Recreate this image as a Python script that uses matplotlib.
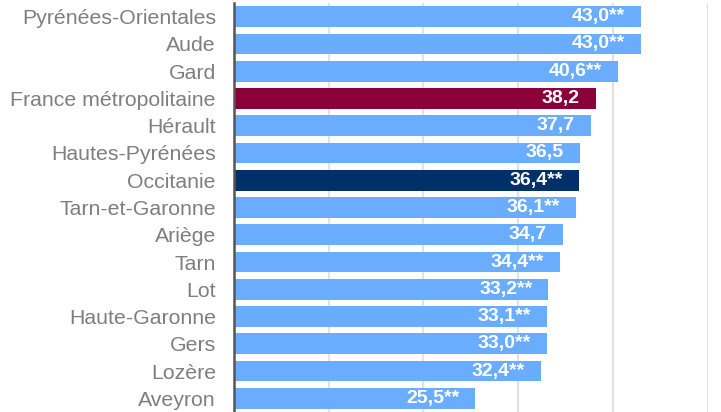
import matplotlib
matplotlib.use('Agg')
import matplotlib.pyplot as plt

# données
departements = ['Pyrénées-Orientales', 'Aude', 'Gard', 'France métropolitaine', 'Hérault',
                'Hautes-Pyrénées', 'Occitanie', 'Tarn-et-Garonne', 'Ariège', 'Tarn', 'Lot',
                'Haute-Garonne', 'Gers', 'Lozère', 'Aveyron']
valeurs = [43.0, 43.0, 40.6, 38.2, 37.7, 36.5, 36.4, 36.1, 34.7, 34.4, 33.2, 33.1, 33.0, 32.4, 25.5]
signif = ['**', '**', '**', '', '', '', '**', '**', '', '**', '**', '**', '**', '**', '**']

BLEU = '#6aadff'
couleurs_speciales = {'France métropolitaine': '#8b0038', 'Occitanie': '#00306a'}

plt.rcParams['font.family'] = ['Liberation Sans', 'DejaVu Sans']

fig = plt.figure(figsize=(7.21, 4.12), dpi=100)
ax = fig.add_axes([234 / 721, 0.0, (707.5 - 234) / 721, 409 / 412])

y = list(range(len(departements)))
couleurs = [couleurs_speciales.get(d, BLEU) for d in departements]
ax.barh(y, valeurs, height=0.76, color=couleurs, zorder=2)

# étiquettes de valeurs dans les barres
for i, (v, s) in enumerate(zip(valeurs, signif)):
    label = f'{v:.1f}'.replace('.', ',') + s
    ax.text(v - 1.7, i, label, ha='right', va='center', color='white',
            fontsize=14, fontweight='bold', zorder=3)

ax.set_ylim(len(departements) - 0.5, -0.5)
ax.set_xlim(0, 50)
ax.set_yticks(y)
ax.set_yticklabels(departements, fontsize=15.3, color='#7f7f7f')
ax.tick_params(axis='y', length=0, pad=13)
ax.set_xticks([10, 20, 30, 40, 50])
ax.tick_params(axis='x', length=0, labelbottom=False)
ax.grid(axis='x', color='#e2e2e2', linewidth=1.6, zorder=0)
ax.set_axisbelow(True)
for sp in ['top', 'right', 'bottom']:
    ax.spines[sp].set_visible(False)
ax.spines['left'].set_color('#555555')
ax.spines['left'].set_linewidth(1.8)
ax.spines['left'].set_zorder(4)

fig.savefig('out.png', dpi=100)
